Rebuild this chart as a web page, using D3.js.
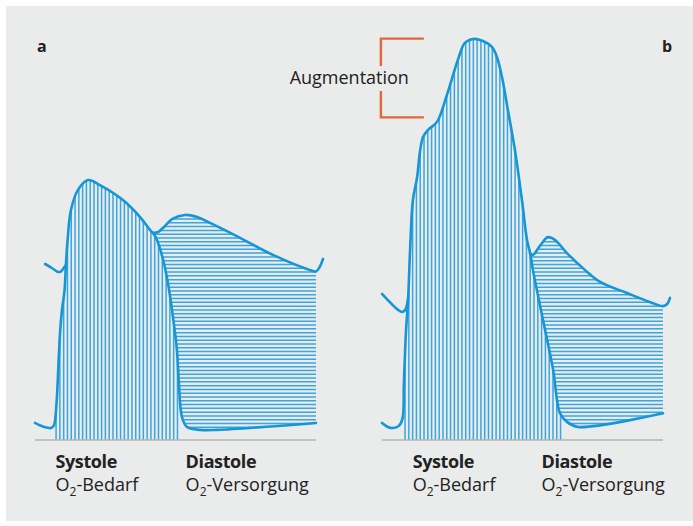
<!DOCTYPE html>
<html>
<head>
<meta charset="utf-8">
<script src="https://cdn.jsdelivr.net/npm/d3@7"></script>
<style>
  body { margin: 0; background: #fff; }
  text { font-family: "Open Sans", "Noto Sans", sans-serif; fill: #222; }
</style>
</head>
<body>
<svg id="chart"></svg>
<script>
// time (0..100 % of cycle) and pressure (arbitrary mmHg-like units)
const lvA = [[0,6.4],[3.2,4.9],[5.7,4.5],[6.8,5.6],[7.3,9],[7.8,16],[8.9,40],[9.6,48.8],[10.5,56],[11.0,65.6],
  [11.6,75],[12.8,86.3],[15.3,93.8],[18.9,97.5],[23.1,95.6],[31.3,90],[37.4,83.6],[40.9,78.8],[42.0,77.6],
  [43.4,75],[45.6,67.5],[47.3,58.9],[49.1,46.1],[50.5,33.8],[51.2,21.4],[52.3,8.6],[54.1,4.9],[58.7,3.8],
  [64.8,3.8],[100,6.4]];
const aoTailA = [[3.6,66],[6.0,64.5],[7.8,63.2],[8.9,63],[9.6,63.6],[10.4,64.8],[11.0,65.6]];
const aoA = [[42.0,77.6],[43.8,78.0],[46,80],[48.9,82.9],[53.4,84.4],[57.7,83.6],[62.3,81.4],[73.0,75.8],
  [84.7,69.4],[98.9,63.4],[100,63.2],[101.1,64.5],[102.5,67.9]];

const lvB = [[0,6.4],[2.1,4.9],[3.9,4.5],[6.0,5.3],[7.3,8],[7.8,21.4],[8.5,40.1],[9.3,53],[10.0,71.3],[11.0,90],
  [12.5,98.6],[13.5,108],[14.6,113.6],[16.4,116.3],[19.6,119.3],[23.1,129.4],[27.0,142.5],[29.5,148.9],
  [32.4,150.4],[35.9,149.6],[39.1,147.4],[40.9,143.6],[42.7,136.1],[44.8,123.8],[47.3,108.8],[49.8,90],
  [51.6,75],[52.7,70.1],[53.7,63.8],[57.3,45],[60.9,26.3],[63.3,10.1],[65.8,6.8],[69.8,4.9],[100,10]];
const aoTailB = [[0,54.8],[5.7,48.8],[7.1,48],[8.2,48.7],[9.3,53]];
const aoB = [[52.7,70.1],[53.7,69.4],[56.2,72.8],[59.1,76.1],[61.6,75],[65.8,70.1],[72.2,63.8],[77.6,59.3],
  [87.2,55.1],[97.2,51],[100,50.2],[101.4,50.9],[102.5,53.3]];

const systoleRange = { a: [7.5, 51.6], b: [8.2, 63.7] };
const notchT = { a: 42.0, b: 52.7 };
const phaseLabels = ["Systole", "Diastole"];
const needLabels = [["O", "2", "-Bedarf"], ["O", "2", "-Versorgung"]];
const labelT = { a: [7.3, 53.6], b: [10.9, 56.8] };
const augmentation = { label: "Augmentation", top: 150.5, bottom: 121 };

const width = 693, height = 526;
const blue = "#1596d6", hatch = "#3aa6df";

const svg = d3.select("#chart").attr("width", width).attr("height", height);
svg.append("rect").attr("x", 6).attr("y", 6).attr("width", width - 6).attr("height", height - 11)
  .attr("fill", "#eaebeb");

const y = d3.scaleLinear().domain([0, 150]).range([440, 40]);
const curve = d3.curveCatmullRom.alpha(0.5);

function drawPanel(key, x0, lv, aoTail, ao) {
  const x = d3.scaleLinear().domain([0, 100]).range([x0, x0 + 281]);
  const g = svg.append("g");
  const line = d3.line().x(d => x(d[0])).y(d => y(d[1])).curve(curve);

  const underLv = d3.area().x(d => x(d[0])).y0(y(0)).y1(d => y(d[1])).curve(curve);
  const aboveLv = d3.area().x(d => x(d[0])).y0(y(200)).y1(d => y(d[1])).curve(curve);
  const defs = svg.append("defs");
  defs.append("clipPath").attr("id", "under-" + key).append("path").attr("d", underLv(lv));
  defs.append("clipPath").attr("id", "above-" + key).append("path").attr("d", aboveLv(lv));
  defs.append("clipPath").attr("id", "ao-" + key).append("path").attr("d", underLv(ao));

  // systole: vertical hatching
  const [s0, s1] = systoleRange[key];
  g.append("g").attr("clip-path", `url(#under-${key})`)
    .selectAll("line").data(d3.range(s0, s1 + 0.01, 1.35)).join("line")
    .attr("x1", d => x(d)).attr("x2", d => x(d))
    .attr("y1", y(0)).attr("y2", y(160))
    .attr("stroke", hatch).attr("stroke-width", 1.5);

  // diastole: horizontal hatching between aortic and LV curves
  g.append("g").attr("clip-path", `url(#ao-${key})`)
    .append("g").attr("clip-path", `url(#above-${key})`)
    .selectAll("line").data(d3.range(0.5, 100, 1.42)).join("line")
    .attr("x1", x(notchT[key])).attr("x2", x(100))
    .attr("y1", d => y(d)).attr("y2", d => y(d))
    .attr("stroke", hatch).attr("stroke-width", 1.5);

  // baseline
  g.append("line").attr("x1", x(0)).attr("x2", x(100)).attr("y1", y(0)).attr("y2", y(0))
    .attr("stroke", "#b5b5b5").attr("stroke-width", 1.6);

  [lv, aoTail, ao].forEach(d => {
    g.append("path").attr("d", line(d)).attr("fill", "none")
      .attr("stroke", blue).attr("stroke-width", 2.6).attr("stroke-linejoin", "round")
      .attr("stroke-linecap", "round");
  });

  // labels
  labelT[key].forEach((t, i) => {
    g.append("text").attr("x", x(t)).attr("y", 468).attr("font-size", 18).attr("font-weight", "bold")
      .attr("letter-spacing", -0.4).text(phaseLabels[i]);
    const tx = g.append("text").attr("x", x(t)).attr("y", 491).attr("font-size", 18);
    tx.append("tspan").text(needLabels[i][0]);
    tx.append("tspan").attr("font-size", 12).attr("dy", 5).text(needLabels[i][1]);
    tx.append("tspan").attr("dy", -5).text(needLabels[i][2]);
  });
  return x;
}

drawPanel("a", 35, lvA, aoTailA, aoA);
const xb = drawPanel("b", 382, lvB, aoTailB, aoB);

svg.append("text").attr("x", 37).attr("y", 52).attr("font-size", 16).attr("font-weight", "bold").text("a");
svg.append("text").attr("x", 662).attr("y", 52).attr("font-size", 16).attr("font-weight", "bold").text("b");

// augmentation bracket
const bx0 = xb(-0.4), bx1 = xb(14.9);
const yt = y(augmentation.top), yb = y(augmentation.bottom), ym = (yt + yb) / 2;
const orange = "#e2673c";
svg.append("path")
  .attr("d", `M${bx1},${yt}H${bx0}V${ym - 12}M${bx0},${ym + 13}V${yb}H${bx1}`)
  .attr("fill", "none").attr("stroke", orange).attr("stroke-width", 2.4);
svg.append("text").attr("x", bx0 + 28).attr("y", ym + 6).attr("font-size", 18)
  .attr("text-anchor", "end").text(augmentation.label);
</script>
</body>
</html>
